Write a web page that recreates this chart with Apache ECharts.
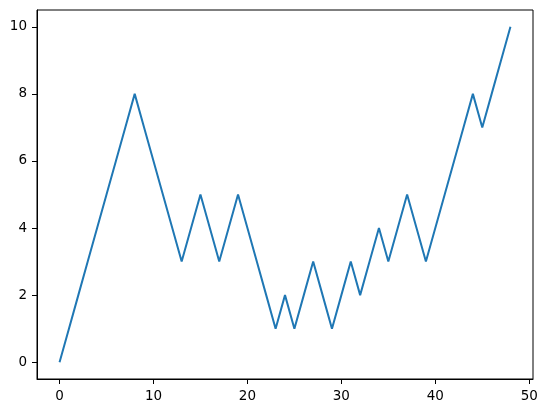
<!DOCTYPE html>
<html>
<head>
<meta charset="utf-8">
<script src="https://cdn.jsdelivr.net/npm/echarts@6/dist/echarts.min.js"></script>
<style>
  html, body { margin: 0; padding: 0; background: #fff; }
  #chart { width: 548px; height: 413px; }
</style>
</head>
<body>
<div id="chart"></div>
<script>
// 数据：随机游走，每步 ±1
const xValues = [0,1,2,3,4,5,6,7,8,9,10,11,12,13,14,15,16,17,18,19,20,21,22,23,24,
                 25,26,27,28,29,30,31,32,33,34,35,36,37,38,39,40,41,42,43,44,45,46,47,48];
const yValues = [0,1,2,3,4,5,6,7,8,7,6,5,4,3,4,5,4,3,4,5,4,3,2,1,2,
                 1,2,3,2,1,2,3,2,3,4,3,4,5,4,3,4,5,6,7,8,7,8,9,10];
const xTicks = [0, 10, 20, 30, 40, 50];
const yTicks = [0, 2, 4, 6, 8, 10];

const chart = echarts.init(document.getElementById('chart'), null, { renderer: 'canvas' });

const axisCommon = {
    axisLine: { show: true, onZero: false, lineStyle: { color: '#000', width: 1 } },
    axisTick: { show: true, length: 5, lineStyle: { color: '#000', width: 1 } },
    axisLabel: { color: '#000', fontSize: 13.5, fontFamily: 'DejaVu Sans' },
    splitLine: { show: false }
};

chart.setOption({
    animation: false,
    grid: { left: 37, right: 15, top: 10, bottom: 34, show: true, borderColor: '#000', borderWidth: 1 },
    xAxis: Object.assign({}, axisCommon, {
        type: 'value',
        min: -2.4,
        max: 50.4,
        axisTick: Object.assign({}, axisCommon.axisTick, { customValues: xTicks }),
        axisLabel: Object.assign({}, axisCommon.axisLabel, { customValues: xTicks, margin: 10 })
    }),
    yAxis: Object.assign({}, axisCommon, {
        type: 'value',
        min: -0.5,
        max: 10.5,
        axisTick: Object.assign({}, axisCommon.axisTick, { customValues: yTicks }),
        axisLabel: Object.assign({}, axisCommon.axisLabel, { customValues: yTicks, margin: 10 })
    }),
    series: [{
        type: 'line',
        data: xValues.map((x, i) => [x, yValues[i]]),
        showSymbol: false,
        lineStyle: { color: '#1f77b4', width: 2 },
        itemStyle: { color: '#1f77b4' }
    }]
});
</script>
</body>
</html>
